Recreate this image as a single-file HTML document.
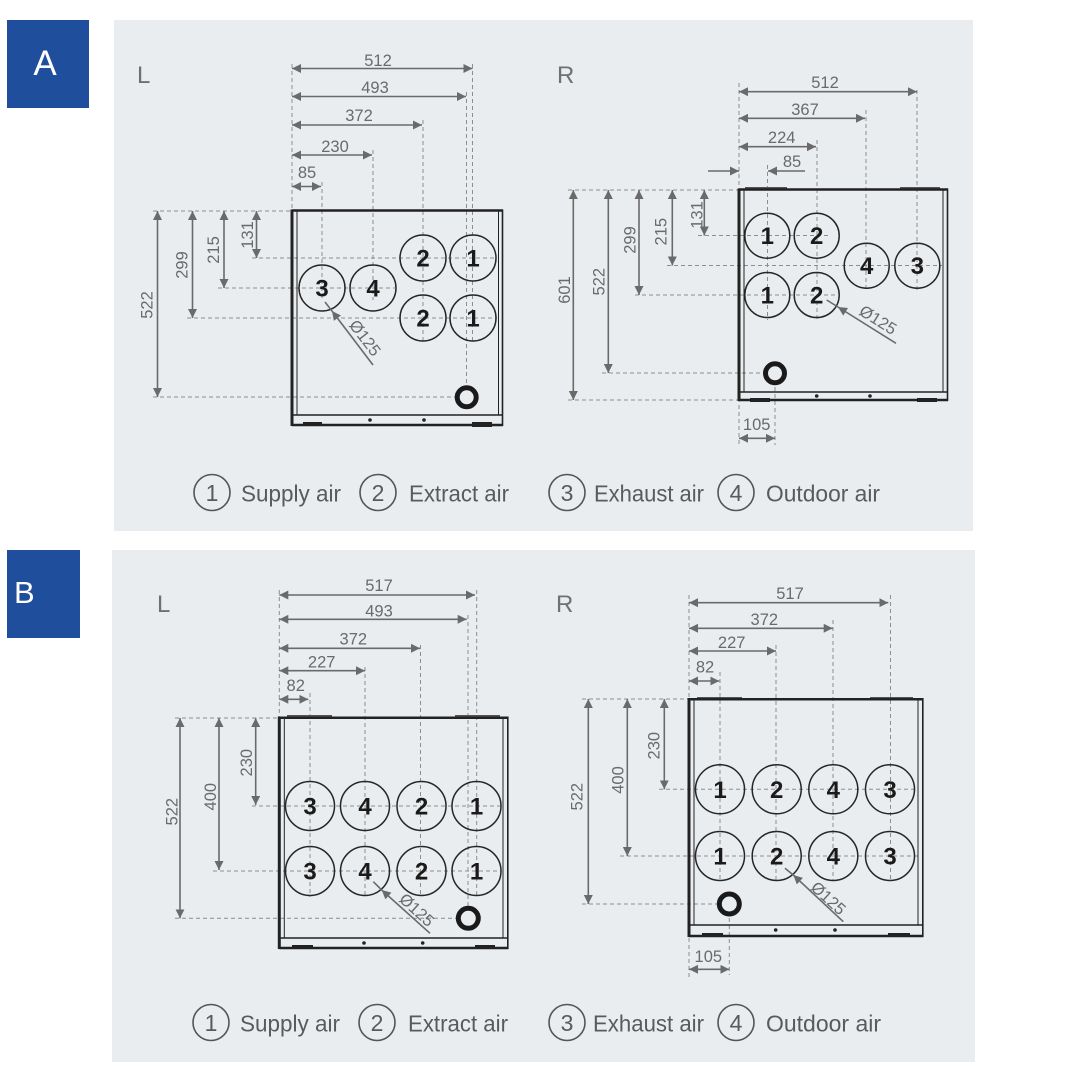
<!DOCTYPE html>
<html><head><meta charset="utf-8"><style>
html,body{margin:0;padding:0;background:#fff;}
svg{display:block;}
text{font-family:"Liberation Sans",sans-serif;}
.d{stroke:#8d8d8d;stroke-width:1;stroke-dasharray:4 3;fill:none}
.m{stroke:#6a6a6a;stroke-width:1.6;fill:none;marker-start:url(#s);marker-end:url(#e)}
.h{stroke:#6a6a6a;stroke-width:1.6;fill:none}
.t{font-size:16.5px;fill:#6a6a6a;text-anchor:middle}
.c{fill:none;stroke:#262626;stroke-width:1.5}
.n{font-size:24px;font-weight:bold;fill:#1a1a1a;text-anchor:middle}
.b{stroke:#222;fill:none}
.dr{fill:#e9edf0;stroke:#1a1a1a;stroke-width:5}
.lg{fill:none;stroke:#555;stroke-width:1.6}
.lt{font-size:23px;fill:#5a5a5a}
.ln{font-size:23px;fill:#5a5a5a;text-anchor:middle}
.big{font-size:24px;fill:#707070}
</style></head><body>
<svg width="1080" height="1080" viewBox="0 0 1080 1080">
<defs>
<marker id="e" markerUnits="userSpaceOnUse" markerWidth="10" markerHeight="9" refX="9" refY="4.5" orient="auto"><path d="M0,0 L9,4.5 L0,9 z" fill="#6a6a6a"/></marker>
<marker id="s" markerUnits="userSpaceOnUse" markerWidth="10" markerHeight="9" refX="0" refY="4.5" orient="auto"><path d="M9,0 L0,4.5 L9,9 z" fill="#6a6a6a"/></marker>
</defs>
<rect x="0" y="0" width="1080" height="1080" fill="#fff"/>
<rect x="114" y="20" width="859" height="511" fill="#e9edf0"/>
<rect x="112" y="550" width="863" height="512" fill="#e9edf0"/>
<rect x="7" y="20" width="82" height="88" fill="#1f4e9c"/>
<rect x="7" y="550" width="73" height="88" fill="#1f4e9c"/>
<text x="45" y="75" font-size="35" fill="#fff" text-anchor="middle">A</text>
<text x="14" y="603" font-size="31" fill="#fff">B</text>

<!-- ============ A - L ============ -->
<text x="137" y="83" class="big">L</text>
<g class="d">
<path d="M292,64 V211"/>
<path d="M472.5,64 V343"/>
<path d="M466.5,92 V397"/>
<path d="M423,120 V343"/>
<path d="M373,150 V300"/>
<path d="M322,182 V300"/>
<path d="M153,211 H292"/>
<path d="M252,258 H497"/>
<path d="M218,288 H395"/>
<path d="M187,318 H497"/>
<path d="M153,397 H467"/>
</g>
<line class="m" x1="292" y1="68.5" x2="472.5" y2="68.5"/>
<line class="m" x1="292" y1="96.5" x2="466" y2="96.5"/>
<line class="m" x1="292" y1="125" x2="422" y2="125"/>
<line class="m" x1="292" y1="155" x2="372" y2="155"/>
<line class="m" x1="292" y1="186.5" x2="321" y2="186.5"/>
<line class="m" x1="157.5" y1="211" x2="157.5" y2="397"/>
<line class="m" x1="192.5" y1="211" x2="192.5" y2="318"/>
<line class="m" x1="224" y1="211" x2="224" y2="288"/>
<line class="m" x1="256.5" y1="211" x2="256.5" y2="258"/>
<text class="t" x="378" y="66">512</text>
<text class="t" x="375" y="93">493</text>
<text class="t" x="359" y="121">372</text>
<text class="t" x="335" y="152">230</text>
<text class="t" x="307" y="178">85</text>
<text class="t" transform="translate(146.7,305) rotate(-90)" y="6">522</text>
<text class="t" transform="translate(181.7,265) rotate(-90)" y="6">299</text>
<text class="t" transform="translate(213,250) rotate(-90)" y="6">215</text>
<text class="t" transform="translate(247,235) rotate(-90)" y="6">131</text>
<!-- box -->
<g class="b">
<path d="M292,210.5 H503" stroke-width="2.5"/>
<path d="M292,209.5 V426" stroke-width="3"/>
<path d="M297,211 V415" stroke-width="1"/>
<path d="M498.5,211 V415" stroke-width="1"/>
<path d="M502.5,209.5 V426" stroke-width="1.6"/>
<path d="M292,415 H503" stroke-width="1.6"/>
<path d="M292,425 H503" stroke-width="2.5"/>
</g>
<rect x="303" y="422" width="19" height="4" fill="#222"/>
<rect x="472" y="422" width="20" height="5" fill="#222"/>
<circle cx="370" cy="420" r="1.8" fill="#222"/>
<circle cx="424" cy="420" r="1.8" fill="#222"/>
<circle class="c" cx="322" cy="288" r="23"/><text class="n" x="322" y="296.5">3</text>
<circle class="c" cx="373" cy="288" r="23"/><text class="n" x="373" y="296.5">4</text>
<circle class="c" cx="423" cy="258" r="23"/><text class="n" x="423" y="266.5">2</text>
<circle class="c" cx="473" cy="258" r="23"/><text class="n" x="473" y="266.5">1</text>
<circle class="c" cx="423" cy="318" r="23"/><text class="n" x="423" y="326.5">2</text>
<circle class="c" cx="473" cy="318" r="23"/><text class="n" x="473" y="326.5">1</text>
<circle class="dr" cx="466.7" cy="397.3" r="9.5"/>
<line class="h" x1="325" y1="302" x2="332" y2="311"/>
<line class="h" style="marker-start:url(#s)" x1="332" y1="311" x2="373" y2="365"/>
<text class="t" transform="translate(365,338) rotate(52.6)" y="5.5">Ø125</text>

<!-- ============ A - R ============ -->
<text x="557" y="83" class="big">R</text>
<g class="d">
<path d="M739,83 V445"/>
<path d="M917,90 V290"/>
<path d="M866,110 V290"/>
<path d="M817,140 V320"/>
<path d="M767.5,165 V320"/>
<path d="M775,373 V445"/>
<path d="M568,190 H739"/>
<path d="M698,235.5 H830"/>
<path d="M667,265.5 H942"/>
<path d="M635,295 H835"/>
<path d="M602,373 H775"/>
<path d="M568,400 H739"/>
</g>
<line class="m" x1="739" y1="91.7" x2="917" y2="91.7"/>
<line class="m" x1="739" y1="118.3" x2="865" y2="118.3"/>
<line class="m" x1="739" y1="146.7" x2="816" y2="146.7"/>
<line class="h" style="marker-end:url(#e)" x1="708" y1="171" x2="739" y2="171"/>
<line class="h" style="marker-end:url(#e)" x1="805" y1="171" x2="768" y2="171"/>
<line class="m" x1="573.3" y1="190" x2="573.3" y2="400"/>
<line class="m" x1="608.3" y1="190" x2="608.3" y2="373"/>
<line class="m" x1="639" y1="190" x2="639" y2="295"/>
<line class="m" x1="672.3" y1="190" x2="672.3" y2="265.5"/>
<line class="m" x1="704.3" y1="190" x2="704.3" y2="235.5"/>
<line class="m" x1="739" y1="438.3" x2="775" y2="438.3"/>
<text class="t" x="825" y="88">512</text>
<text class="t" x="805" y="115">367</text>
<text class="t" x="781.7" y="143">224</text>
<text class="t" x="792" y="167">85</text>
<text class="t" x="756.7" y="430">105</text>
<text class="t" transform="translate(564,290) rotate(-90)" y="6">601</text>
<text class="t" transform="translate(598.3,281.7) rotate(-90)" y="6">522</text>
<text class="t" transform="translate(629.3,240) rotate(-90)" y="6">299</text>
<text class="t" transform="translate(660.7,231.7) rotate(-90)" y="6">215</text>
<text class="t" transform="translate(696.7,215) rotate(-90)" y="6">131</text>
<g class="b">
<path d="M745,188 H787 M900,188 H940" stroke="#555" stroke-width="2"/>
<path d="M739,189.5 H948" stroke-width="2.5"/>
<path d="M739,188.5 V401" stroke-width="3"/>
<path d="M744,190 V392" stroke-width="1"/>
<path d="M943,190 V392" stroke-width="1"/>
<path d="M947.5,188.5 V401" stroke-width="1.6"/>
<path d="M739,392 H948" stroke-width="1.6"/>
<path d="M739,400 H948" stroke-width="2.5"/>
</g>
<rect x="750" y="398" width="20" height="4" fill="#222"/>
<rect x="917" y="398" width="20" height="4" fill="#222"/>
<circle cx="816.7" cy="396" r="1.8" fill="#222"/>
<circle cx="870" cy="396" r="1.8" fill="#222"/>
<circle class="c" cx="767.3" cy="235.7" r="22.5"/><text class="n" x="767.3" y="244.2">1</text>
<circle class="c" cx="816.7" cy="235.7" r="22.5"/><text class="n" x="816.7" y="244.2">2</text>
<circle class="c" cx="866.7" cy="265.7" r="22.5"/><text class="n" x="866.7" y="274.2">4</text>
<circle class="c" cx="917.3" cy="265.7" r="22.5"/><text class="n" x="917.3" y="274.2">3</text>
<circle class="c" cx="767.3" cy="295" r="22.5"/><text class="n" x="767.3" y="303.5">1</text>
<circle class="c" cx="816.7" cy="295" r="22.5"/><text class="n" x="816.7" y="303.5">2</text>
<circle class="dr" cx="775" cy="373.3" r="9.5"/>
<line class="h" x1="826.7" y1="300" x2="838" y2="307"/>
<line class="h" style="marker-start:url(#s)" x1="838" y1="307" x2="896" y2="343.3"/>
<text class="t" transform="translate(878,320) rotate(32)" y="5.5">Ø125</text>

<!-- legend A -->
<circle class="lg" cx="212" cy="492.5" r="18"/><text class="ln" x="212" y="501">1</text>
<text class="lt" x="241" y="501.5" textLength="100" lengthAdjust="spacingAndGlyphs">Supply air</text>
<circle class="lg" cx="378" cy="492.5" r="18"/><text class="ln" x="378" y="501">2</text>
<text class="lt" x="409" y="501.5" textLength="100" lengthAdjust="spacingAndGlyphs">Extract air</text>
<circle class="lg" cx="567" cy="492.5" r="18"/><text class="ln" x="567" y="501">3</text>
<text class="lt" x="594" y="501.5" textLength="110" lengthAdjust="spacingAndGlyphs">Exhaust air</text>
<circle class="lg" cx="736" cy="492.5" r="18"/><text class="ln" x="736" y="501">4</text>
<text class="lt" x="766" y="501.5" textLength="114" lengthAdjust="spacingAndGlyphs">Outdoor air</text>

<!-- ============ B - L ============ -->
<text x="157" y="612" class="big">L</text>
<g class="d">
<path d="M279.3,590 V718"/>
<path d="M476.7,590 V897"/>
<path d="M468,615 V918"/>
<path d="M420.5,645 V897"/>
<path d="M365,667 V897"/>
<path d="M310,693 V897"/>
<path d="M175,718 H279"/>
<path d="M252,806 H501"/>
<path d="M213,871 H501"/>
<path d="M175,918.3 H468"/>
</g>
<line class="m" x1="279.3" y1="595" x2="475" y2="595"/>
<line class="m" x1="279.3" y1="619.3" x2="466.7" y2="619.3"/>
<line class="m" x1="279.3" y1="648.3" x2="420" y2="648.3"/>
<line class="m" x1="279.3" y1="670.7" x2="365" y2="670.7"/>
<line class="m" x1="279.3" y1="699.3" x2="308.3" y2="699.3"/>
<line class="m" x1="180" y1="718" x2="180" y2="918.3"/>
<line class="m" x1="219" y1="718" x2="219" y2="870"/>
<line class="m" x1="255.7" y1="718" x2="255.7" y2="805"/>
<text class="t" x="379" y="591">517</text>
<text class="t" x="379" y="616.7">493</text>
<text class="t" x="353.3" y="644.3">372</text>
<text class="t" x="321.7" y="667.7">227</text>
<text class="t" x="295.7" y="691">82</text>
<text class="t" transform="translate(171.7,811.7) rotate(-90)" y="6">522</text>
<text class="t" transform="translate(210,796.7) rotate(-90)" y="6">400</text>
<text class="t" transform="translate(246,762.7) rotate(-90)" y="6">230</text>
<g class="b">
<path d="M287,716 H332 M455,716 H500" stroke="#555" stroke-width="2"/>
<path d="M279.3,717.7 H508.3" stroke-width="2.5"/>
<path d="M279.3,716.5 V949" stroke-width="3"/>
<path d="M284.3,718 V938" stroke-width="1"/>
<path d="M503,718 V938" stroke-width="1"/>
<path d="M507.8,716.5 V949" stroke-width="1.6"/>
<path d="M279.3,938 H508.3" stroke-width="1.6"/>
<path d="M279.3,948 H508.3" stroke-width="2.5"/>
</g>
<rect x="292" y="945" width="21" height="4" fill="#222"/>
<rect x="475" y="945" width="20" height="4" fill="#222"/>
<circle cx="364" cy="943" r="1.8" fill="#222"/>
<circle cx="422.7" cy="943" r="1.8" fill="#222"/>
<circle class="c" cx="310" cy="806" r="24.5"/><text class="n" x="310" y="814.5">3</text>
<circle class="c" cx="365" cy="806" r="24.5"/><text class="n" x="365" y="814.5">4</text>
<circle class="c" cx="421.5" cy="806" r="24.5"/><text class="n" x="421.5" y="814.5">2</text>
<circle class="c" cx="476.5" cy="806" r="24.5"/><text class="n" x="476.5" y="814.5">1</text>
<circle class="c" cx="310" cy="871" r="24.5"/><text class="n" x="310" y="879.5">3</text>
<circle class="c" cx="365" cy="871" r="24.5"/><text class="n" x="365" y="879.5">4</text>
<circle class="c" cx="421.5" cy="871" r="24.5"/><text class="n" x="421.5" y="879.5">2</text>
<circle class="c" cx="476.5" cy="871" r="24.5"/><text class="n" x="476.5" y="879.5">1</text>
<circle class="dr" cx="468.3" cy="918.3" r="10"/>
<line class="h" x1="373.3" y1="881.7" x2="381.7" y2="890"/>
<line class="h" style="marker-start:url(#s)" x1="381.7" y1="890" x2="430" y2="933.3"/>
<text class="t" transform="translate(416.7,910) rotate(42.3)" y="5.5">Ø125</text>

<!-- ============ B - R ============ -->
<text x="556" y="612" class="big">R</text>
<g class="d">
<path d="M689,595 V978"/>
<path d="M890.5,595 V880"/>
<path d="M833,620 V880"/>
<path d="M776,645 V880"/>
<path d="M720,672 V880"/>
<path d="M729.3,904 V975"/>
<path d="M582,699 H689"/>
<path d="M659,789.3 H918"/>
<path d="M620,856 H918"/>
<path d="M582,904 H729"/>
</g>
<line class="m" x1="689" y1="602.7" x2="888.3" y2="602.7"/>
<line class="m" x1="689" y1="628.3" x2="832.7" y2="628.3"/>
<line class="m" x1="689" y1="651" x2="776" y2="651"/>
<line class="m" x1="689" y1="681" x2="719.3" y2="681"/>
<line class="m" x1="689" y1="969.3" x2="729.3" y2="969.3"/>
<line class="m" x1="588.3" y1="699" x2="588.3" y2="904"/>
<line class="m" x1="627.3" y1="699" x2="627.3" y2="856"/>
<line class="m" x1="664.3" y1="699" x2="664.3" y2="789.3"/>
<text class="t" x="790" y="599">517</text>
<text class="t" x="764.3" y="625">372</text>
<text class="t" x="731.7" y="648">227</text>
<text class="t" x="705" y="672.7">82</text>
<text class="t" x="708.3" y="962">105</text>
<text class="t" transform="translate(576.7,796.7) rotate(-90)" y="6">522</text>
<text class="t" transform="translate(617.3,780) rotate(-90)" y="6">400</text>
<text class="t" transform="translate(653.3,745.7) rotate(-90)" y="6">230</text>
<g class="b">
<path d="M697,698 H742 M870,698 H913" stroke="#555" stroke-width="2"/>
<path d="M689,699.3 H923.3" stroke-width="2.5"/>
<path d="M689,698 V937" stroke-width="3"/>
<path d="M694,700 V925" stroke-width="1"/>
<path d="M918,700 V925" stroke-width="1"/>
<path d="M922.8,698 V937" stroke-width="1.6"/>
<path d="M689,925 H923.3" stroke-width="1.6"/>
<path d="M689,936 H923.3" stroke-width="2.5"/>
</g>
<rect x="702" y="933" width="21" height="4" fill="#222"/>
<rect x="888" y="933" width="22" height="4" fill="#222"/>
<circle cx="775.7" cy="930" r="1.8" fill="#222"/>
<circle cx="835" cy="930" r="1.8" fill="#222"/>
<circle class="c" cx="720" cy="789.3" r="24.5"/><text class="n" x="720" y="797.8">1</text>
<circle class="c" cx="776.7" cy="789.3" r="24.5"/><text class="n" x="776.7" y="797.8">2</text>
<circle class="c" cx="833.3" cy="789.3" r="24.5"/><text class="n" x="833.3" y="797.8">4</text>
<circle class="c" cx="890" cy="789.3" r="24.5"/><text class="n" x="890" y="797.8">3</text>
<circle class="c" cx="720" cy="856" r="24.5"/><text class="n" x="720" y="864.5">1</text>
<circle class="c" cx="776.7" cy="856" r="24.5"/><text class="n" x="776.7" y="864.5">2</text>
<circle class="c" cx="833.3" cy="856" r="24.5"/><text class="n" x="833.3" y="864.5">4</text>
<circle class="c" cx="890" cy="856" r="24.5"/><text class="n" x="890" y="864.5">3</text>
<circle class="dr" cx="729.3" cy="904" r="10"/>
<line class="h" x1="785" y1="868.3" x2="793.3" y2="875"/>
<line class="h" style="marker-start:url(#s)" x1="793.3" y1="875" x2="843.3" y2="921.7"/>
<text class="t" transform="translate(828.3,898.3) rotate(42.5)" y="5.5">Ø125</text>

<!-- legend B -->
<circle class="lg" cx="211" cy="1022.5" r="18"/><text class="ln" x="211" y="1031">1</text>
<text class="lt" x="240" y="1031.5" textLength="100" lengthAdjust="spacingAndGlyphs">Supply air</text>
<circle class="lg" cx="377" cy="1022.5" r="18"/><text class="ln" x="377" y="1031">2</text>
<text class="lt" x="408" y="1031.5" textLength="100" lengthAdjust="spacingAndGlyphs">Extract air</text>
<circle class="lg" cx="567" cy="1022.5" r="18"/><text class="ln" x="567" y="1031">3</text>
<text class="lt" x="593" y="1031.5" textLength="111" lengthAdjust="spacingAndGlyphs">Exhaust air</text>
<circle class="lg" cx="736" cy="1022.5" r="18"/><text class="ln" x="736" y="1031">4</text>
<text class="lt" x="766" y="1031.5" textLength="115" lengthAdjust="spacingAndGlyphs">Outdoor air</text>
</svg>
</body></html>
